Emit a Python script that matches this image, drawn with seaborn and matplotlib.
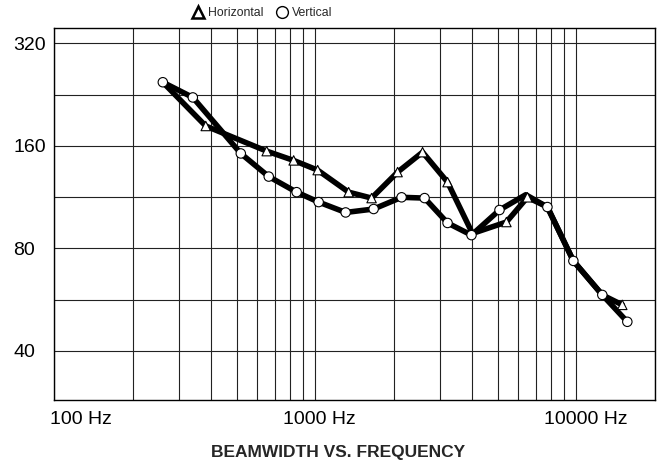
import numpy as np
import pandas as pd
import matplotlib
matplotlib.use("Agg")
import matplotlib.pyplot as plt
import matplotlib.ticker as mticker
import matplotlib.transforms as mtransforms
from matplotlib.lines import Line2D
import seaborn as sns

# ---- data ----
vert_freq = [261, 340, 519, 664, 849, 1031, 1308, 1674, 2142, 2623, 3212, 3967,
             5077, 6400, 7746, 9739, 12570, 15670]
vert_bw = [246, 222, 152, 130, 117, 109.4, 102, 104.4, 113, 112.4, 95, 87.5,
           103.7, 115, 105.8, 73.5, 58.4, 48.7]
vert_mark = [1, 1, 1, 1, 1, 1, 1, 1, 1, 1, 1, 1, 1, 0, 1, 1, 1, 1]

horz_freq = [261, 381, 652, 827, 1022, 1343, 1644, 2068, 2577, 3212, 4000,
             5397, 6495, 7746, 9739, 12570, 14990]
horz_bw = [246, 183, 154.4, 145, 135.8, 117, 112.4, 134, 153.3, 125.2, 88.5,
           95.6, 113, 105.8, 73.5, 58.4, 54.6]
horz_mark = [0, 1, 1, 1, 1, 1, 1, 1, 1, 1, 0, 1, 1, 0, 0, 0, 1]

y_ticks = [40, 80, 160, 320]
y_minor = [56.57, 113.1, 226.3]
x_ticks = [100, 1000, 10000]
x_labels = ["100 Hz", "1000 Hz", "10000 Hz"]
x_label_shift = [-4, 4, 9]  # px
title = "BEAMWIDTH VS. FREQUENCY"

df = pd.concat([
    pd.DataFrame({"freq": horz_freq, "bw": horz_bw, "mark": horz_mark, "series": "Horizontal"}),
    pd.DataFrame({"freq": vert_freq, "bw": vert_bw, "mark": vert_mark, "series": "Vertical"}),
], ignore_index=True)

sns.set_theme(style="white")
plt.rcParams["font.family"] = ["Liberation Sans", "DejaVu Sans"]

fig, ax = plt.subplots(figsize=(6.57, 4.66), dpi=100)
fig.subplots_adjust(left=54/657, right=655/657, top=1-28/466, bottom=1-400/466)

ax.set_xscale("log")
ax.set_yscale("log", base=2)
ax.set_xlim(100, 20000)
ax.set_ylim(28.7, 355)

# grid
ax.set_axisbelow(True)
ax.yaxis.set_major_locator(mticker.FixedLocator(y_ticks))
ax.yaxis.set_minor_locator(mticker.FixedLocator(y_minor))
ax.yaxis.set_major_formatter(mticker.FixedFormatter([str(v) for v in y_ticks]))
ax.yaxis.set_minor_formatter(mticker.NullFormatter())
ax.xaxis.set_major_locator(mticker.FixedLocator(x_ticks))
ax.xaxis.set_minor_locator(mticker.LogLocator(base=10, subs=np.arange(2, 10)))
ax.xaxis.set_major_formatter(mticker.FixedFormatter(x_labels))
ax.xaxis.set_minor_formatter(mticker.NullFormatter())
ax.grid(True, which="both", color="#222222", lw=0.8)

# lines
for name in ["Horizontal", "Vertical"]:
    sub = df[df.series == name]
    sns.lineplot(data=sub, x="freq", y="bw", color="black", lw=4.0, sort=False,
                 estimator=None, ax=ax, legend=False,
                 solid_capstyle="round", solid_joinstyle="round", zorder=2)

# markers
mk = df[df.mark == 1]
sns.scatterplot(data=mk, x="freq", y="bw", style="series",
                markers={"Horizontal": "^", "Vertical": "o"},
                color="white", edgecolor="black", linewidth=0.8, s=46,
                ax=ax, legend=False, zorder=3)

ax.set_xlabel("")
ax.set_ylabel("")
for sp in ax.spines.values():
    sp.set_color("black")
    sp.set_linewidth(1.0)

ax.tick_params(axis="both", which="both", length=0, labelsize=14, colors="black")
ax.tick_params(axis="y", pad=29.5)
ax.tick_params(axis="x", pad=8)
for lab in ax.get_yticklabels():
    lab.set_horizontalalignment("left")
for lab, dx in zip(ax.get_xticklabels(), x_label_shift):
    if dx < 0:
        lab.set_horizontalalignment("left")
    lab.set_transform(lab.get_transform() +
                      mtransforms.ScaledTranslation(dx/100, 0, fig.dpi_scale_trans))

# legend
handles = [
    Line2D([], [], ls="none", marker="^", markersize=9, markerfacecolor="white",
           markeredgecolor="black", markeredgewidth=1.8),
    Line2D([], [], ls="none", marker="o", markersize=8.5, markerfacecolor="white",
           markeredgecolor="black", markeredgewidth=1.0),
]
fig.legend(handles, ["Horizontal", "Vertical"], loc="center", ncol=2,
           bbox_to_anchor=(262/657, 1-13/466), frameon=False, fontsize=8.8,
           handlelength=1.0, handletextpad=0.3, columnspacing=1.0)

fig.text(338/657, 1-452/466, title, ha="center", va="center",
         fontsize=12.5, fontweight="bold")

fig.savefig("out.png", dpi=100)
